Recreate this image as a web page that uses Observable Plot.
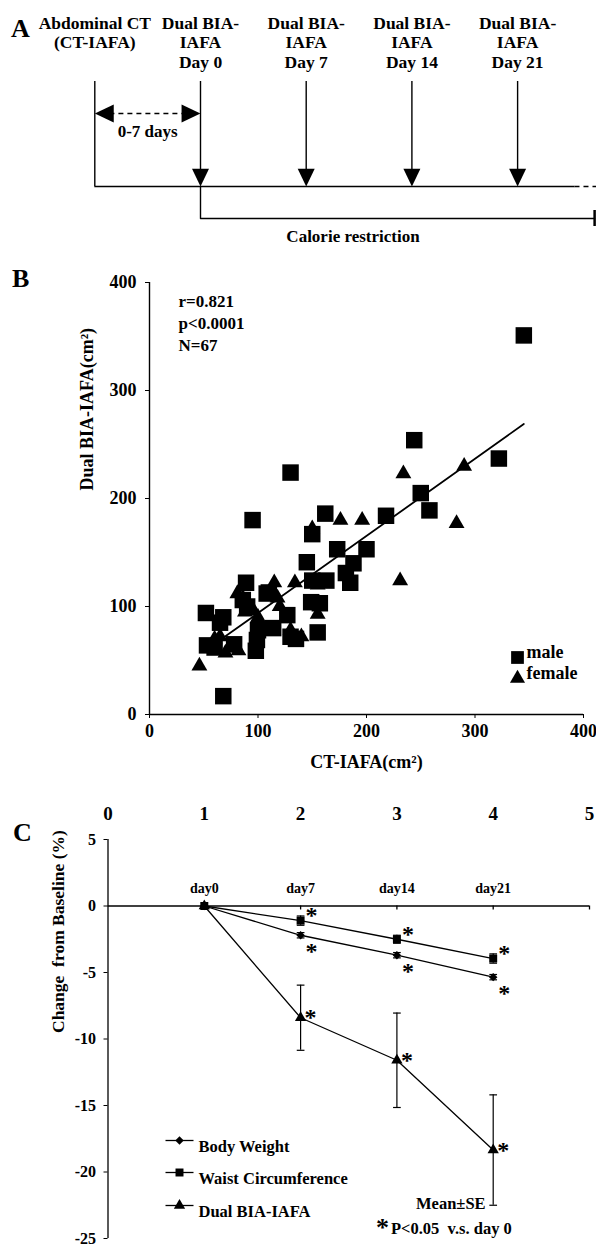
<!DOCTYPE html>
<html><head><meta charset="utf-8">
<script src="https://cdn.jsdelivr.net/npm/d3@7"></script>
<script src="https://cdn.jsdelivr.net/npm/@observablehq/plot@0.6"></script>
<style>
body{margin:0;background:#fff;}
#fig{position:relative;width:596px;height:1247px;overflow:hidden;background:#fff;font-family:"Liberation Serif","Times New Roman",serif;font-weight:bold;color:#000}
#fig .panel{position:absolute;left:0}
#fig .letter{position:absolute;font-size:26px;font-weight:bold;line-height:1}
</style></head><body><div id="fig"></div>
<script>
// ---------------- Panel A: study timeline ----------------
const timelineDays = [-7, 0, 7, 14, 21];
const timelineLabels = ["Abdominal CT\n(CT-IAFA)", "Dual BIA-\nIAFA\nDay 0", "Dual BIA-\nIAFA\nDay 7", "Dual BIA-\nIAFA\nDay 14", "Dual BIA-\nIAFA\nDay 21"];
const timelineKinds = ["ct", "bia", "bia", "bia", "bia"];
const timelineSolidEnd = 24.8, timelineDashEnd = 26.3;
const restrictionStart = 0, restrictionEnd = 26.1;
const gapLabel = "0-7 days", restrictionLabel = "Calorie restriction";

// ---------------- Panel B: scatter ----------------
const male = [[52,94],[68,90],[53,64],[60,62],[68,17],[89,122],[95,180],[98,59],[100,78],[108,112],[114,80],[130,224],[127,92],[130,72],[145,141],[150,167],[150,124],[149,104],[157,103],[155,76],[162,186],[163,124],[173,153],[181,131],[188,140],[185,122],[200,153],[218,184],[244,254],[250,205],[258,189],[345,351],[322,237],[86,106],[99,69],[65,85],[78,65],[90,100],[135,70],[110,113]];
const female = [[46,45],[70,57],[65,72],[86,108],[81,112],[96,96],[115,122],[118,108],[134,122],[130,78],[135,69],[155,93],[155,120],[150,172],[176,180],[196,180],[231,124],[234,223],[290,230],[283,177],[82,59],[88,95],[75,62],[100,90],[120,100],[140,72],[60,70]];
const fitLine = [[68,71],[345,269]];
const bTicks = [0,100,200,300,400];
const bStats = ["r=0.821","p<0.0001","N=67"];
const bXLabel = "CT-IAFA(cm²)", bYLabel = "Dual BIA-IAFA(cm²)";

// ---------------- Panel C: change from baseline ----------------
const cX = [1,2,3,4];
const dayLabels = ["day0","day7","day14","day21"];
const bodyWeight = [0,-2.2,-3.7,-5.35];
const bodyWeightSE = [0,0.2,0.2,0.2];
const waist = [0,-1.1,-2.5,-3.95];
const waistSE = [0,0.35,0.3,0.35];
const dualBIA = [0,-8.4,-11.6,-18.35];
const dualBIASE = [0,2.45,3.55,4.15];
const significant = [false,true,true,true];
const cXTicks = [0,1,2,3,4,5];
const cYTicks = [5,0,-5,-10,-15,-20,-25];
const seriesNames = ["Body Weight","Waist Circumference","Dual BIA-IAFA"];
const cYLabel = "Change\u00a0 from Baseline (%)";
const noteMean = "Mean±SE", noteP = "P<0.05\u00a0 v.s. day 0";

// ---------------- helpers ----------------
const FONT = '"Liberation Serif","Times New Roman",serif';
const triDown = {draw(ctx,size){const r=Math.sqrt(size/Math.PI);ctx.moveTo(-r,-r*1.05);ctx.lineTo(r,-r*1.05);ctx.lineTo(0,r*1.05);ctx.closePath();}};
const triLeft = {draw(ctx,size){const r=Math.sqrt(size/Math.PI);ctx.moveTo(-r*1.05,0);ctx.lineTo(r*1.05,-r);ctx.lineTo(r*1.05,r);ctx.closePath();}};
const triRight = {draw(ctx,size){const r=Math.sqrt(size/Math.PI);ctx.moveTo(r*1.05,0);ctx.lineTo(-r*1.05,-r);ctx.lineTo(-r*1.05,r);ctx.closePath();}};
const hline = {draw(ctx){ctx.moveTo(-14,0);ctx.lineTo(14,0);}};
const baseStyle = {fontFamily: FONT, fontWeight: "bold", color: "black", background: "transparent", overflow: "visible"};

const fig = document.getElementById("fig");
function place(node, top){ node.classList.add("panel"); node.style.top = top + "px"; fig.appendChild(node); }
function letter(t, left, top){ const d=document.createElement("div"); d.className="letter"; d.textContent=t; d.style.left=left+"px"; d.style.top=top+"px"; fig.appendChild(d); }

// ---------------- Panel A ----------------
const A = {labelTop: 14, ruleTop: 81, axis: 186, restriction: 218, restrictionText: 236, gap: 113, gapText: 131};
const events = timelineDays.map((d,i)=>({day:d, label:timelineLabels[i], kind:timelineKinds[i]}));
const restrictionPath = [{day:restrictionStart, y:A.axis},{day:restrictionStart, y:A.restriction},{day:restrictionEnd, y:A.restriction}];
const plotA = Plot.plot({
  width: 596, height: 260, margin: 0,
  x: {domain: [-13.245, 26.225], axis: null},
  y: {domain: [0, 260], range: [0, 260], axis: null},
  style: {...baseStyle, fontSize: "17.5px"},
  marks: [
    Plot.text(events, {x: "day", y: () => A.labelTop, text: "label", lineAnchor: "top", lineHeight: 1.13, fontSize: 17.5}),
    Plot.ruleX(events, {x: "day", y1: () => A.ruleTop, y2: d => d.kind === "ct" ? A.axis : A.axis - 12, stroke: "black", strokeWidth: 1.4}),
    Plot.dot(events.filter(d => d.kind === "bia"), {x: "day", y: () => A.axis, symbol: triDown, r: 8.5, fill: "black", stroke: "none", dy: -8.9}),
    Plot.ruleY([A.axis], {x1: timelineDays[0], x2: timelineSolidEnd, stroke: "black", strokeWidth: 1.4}),
    Plot.ruleY([A.axis], {x1: timelineSolidEnd, x2: timelineDashEnd, stroke: "black", strokeWidth: 1.4, strokeDasharray: "5,4"}),
    Plot.line(restrictionPath, {x: "day", y: "y", stroke: "black", strokeWidth: 1.4}),
    Plot.ruleX([restrictionEnd], {y1: A.restriction - 8, y2: A.restriction + 8, stroke: "black", strokeWidth: 2.5}),
    Plot.ruleY([A.gap], {x1: timelineDays[0] + 1, x2: 0 - 1, stroke: "black", strokeWidth: 1.4, strokeDasharray: "5,4"}),
    Plot.dot([timelineDays[0]], {x: d => d, y: () => A.gap, symbol: triLeft, r: 9, fill: "black", stroke: "none", dx: 9.5}),
    Plot.dot([0], {x: d => d, y: () => A.gap, symbol: triRight, r: 9, fill: "black", stroke: "none", dx: -9.5}),
    Plot.text([gapLabel], {x: () => (timelineDays[0] + 0) / 2, y: () => A.gapText, text: d => d, fontSize: 17}),
    Plot.text([restrictionLabel], {x: () => 10.1, y: () => A.restrictionText, text: d => d, fontSize: 17})
  ]
});
place(plotA, 0);
letter("A", 11, 16);

// ---------------- Panel B ----------------
const plotB = Plot.plot({
  width: 596, height: 530, marginTop: 22, marginBottom: 76, marginLeft: 149, marginRight: 13,
  x: {domain: [0, 400]}, y: {domain: [0, 400]},
  style: {...baseStyle, fontSize: "18px"},
  marks: [
    Plot.axisX({ticks: bTicks, tickSize: 4, tickPadding: 6, label: null, tickFormat: d => String(d), fontSize: 18}),
    Plot.axisY({ticks: bTicks, tickSize: 4, tickPadding: 9, label: null, tickFormat: d => String(d), fontSize: 18}),
    Plot.ruleX([0], {stroke: "black", strokeWidth: 1.4}),
    Plot.ruleY([0], {stroke: "black", strokeWidth: 1.4}),
    Plot.dot(male, {x: d => d[0], y: d => d[1], symbol: "square", r: 9.3, fill: "black", stroke: "none"}),
    Plot.dot(female, {x: d => d[0], y: d => d[1], symbol: "triangle", r: 5.9, fill: "black", stroke: "none"}),
    Plot.line(fitLine, {x: d => d[0], y: d => d[1], stroke: "black", strokeWidth: 1.8}),
    Plot.text([bStats.join("\n")], {frameAnchor: "top-left", dx: 29, dy: 9, textAnchor: "start", lineAnchor: "top", lineHeight: 1.3, fontSize: 17}),
    Plot.dot(["male"], {frameAnchor: "bottom-right", dx: -66, dy: -57, symbol: "square", r: 7.2, fill: "black", stroke: "none"}),
    Plot.dot(["female"], {frameAnchor: "bottom-right", dx: -66, dy: -36, symbol: "triangle", r: 5.6, fill: "black", stroke: "none"}),
    Plot.text(["male"], {frameAnchor: "bottom-right", dx: -57, dy: -57, textAnchor: "start", fontSize: 18}),
    Plot.text(["female"], {frameAnchor: "bottom-right", dx: -57, dy: -36, textAnchor: "start", fontSize: 18}),
    Plot.text([bXLabel], {frameAnchor: "bottom", dy: 53, fontSize: 18}),
    Plot.text([bYLabel], {frameAnchor: "left", dx: -62, dy: -8, rotate: -90, fontSize: 18})
  ]
});
place(plotB, 260);
letter("B", 12, 266);

// ---------------- Panel C ----------------
const seriesValues = [bodyWeight, waist, dualBIA];
const seriesSE = [bodyWeightSE, waistSE, dualBIASE];
const rows = seriesNames.flatMap((name, s) => cX.map((x, i) => ({series: name, x, value: seriesValues[s][i], se: seriesSE[s][i], sig: significant[i]})));
const seriesStyle = {
  "Body Weight": {symbol: "diamond2", r: 3.8, starDx: 11, starDy: 16},
  "Waist Circumference": {symbol: "square", r: 4.5, starDx: 11, starDy: -5},
  "Dual BIA-IAFA": {symbol: "triangle", r: 4.2, starDx: 10, starDy: 0}
};
const bars = rows.filter(d => d.se > 0);
const capHalf = 0.04;
const legendDy = [301, 333, 366];
const plotC = Plot.plot({
  width: 596, height: 457, marginTop: 49, marginBottom: 9, marginLeft: 107.5, marginRight: 7,
  x: {domain: [0, 5]}, y: {domain: [-25, 5]},
  style: {...baseStyle, fontSize: "17px"},
  marks: [
    Plot.axisX({anchor: "top", ticks: cXTicks, tickSize: 0, tickPadding: 20, label: null, tickFormat: d => String(d), fontSize: 19}),
    Plot.axisY({ticks: cYTicks, tickSize: 4, tickPadding: 8, label: null, tickFormat: d => String(d), fontSize: 16}),
    Plot.ruleX([0], {stroke: "black", strokeWidth: 1.3}),
    Plot.ruleY([0], {stroke: "black", strokeWidth: 1.3}),
    Plot.ruleX(cXTicks.slice(1), {x: d => d, y1: 0, y2: -0.3, stroke: "black", strokeWidth: 1.3}),
    Plot.text(cX, {x: d => d, y: 0, text: (d, i) => dayLabels[i], dy: -17, fontSize: 14}),
    Plot.ruleX(bars, {x: "x", y1: d => d.value - d.se, y2: d => d.value + d.se, stroke: "black", strokeWidth: 1.2}),
    Plot.link(bars, {x1: d => d.x - capHalf, x2: d => d.x + capHalf, y1: d => d.value + d.se, y2: d => d.value + d.se, stroke: "black", strokeWidth: 1.2}),
    Plot.link(bars, {x1: d => d.x - capHalf, x2: d => d.x + capHalf, y1: d => d.value - d.se, y2: d => d.value - d.se, stroke: "black", strokeWidth: 1.2}),
    Plot.line(rows, {x: "x", y: "value", z: "series", stroke: "black", strokeWidth: 1.3}),
    ...seriesNames.map(name => Plot.dot(rows.filter(d => d.series === name), {x: "x", y: "value", symbol: seriesStyle[name].symbol, r: seriesStyle[name].r, fill: "black", stroke: "none"})),
    ...seriesNames.map(name => Plot.text(rows.filter(d => d.series === name && d.sig), {x: "x", y: "value", text: () => "*", dx: seriesStyle[name].starDx, dy: seriesStyle[name].starDy, fontSize: 24})),
    ...seriesNames.map((name, i) => Plot.dot([name], {frameAnchor: "top-left", dx: 71.5, dy: legendDy[i], symbol: hline, fill: "none", stroke: "black", strokeWidth: 1.3})),
    ...seriesNames.map((name, i) => Plot.dot([name], {frameAnchor: "top-left", dx: 71.5, dy: legendDy[i], symbol: seriesStyle[name].symbol, r: seriesStyle[name].r, fill: "black", stroke: "none"})),
    ...seriesNames.map((name, i) => Plot.text([name], {frameAnchor: "top-left", dx: 90.5, dy: legendDy[i], textAnchor: "start", fontSize: 16.5})),
    Plot.text([noteMean], {frameAnchor: "top-left", dx: 308, dy: 358, fontSize: 16.5}),
    Plot.text(["*"], {frameAnchor: "top-left", dx: 268, dy: 378, fontSize: 26}),
    Plot.text([noteP], {frameAnchor: "top-left", dx: 283, dy: 383, textAnchor: "start", fontSize: 16.5}),
    Plot.text([cYLabel], {frameAnchor: "left", dx: -50, dy: -6, rotate: -90, fontSize: 17.5})
  ]
});
place(plotC, 790);
letter("C", 13, 820);
</script></body></html>
